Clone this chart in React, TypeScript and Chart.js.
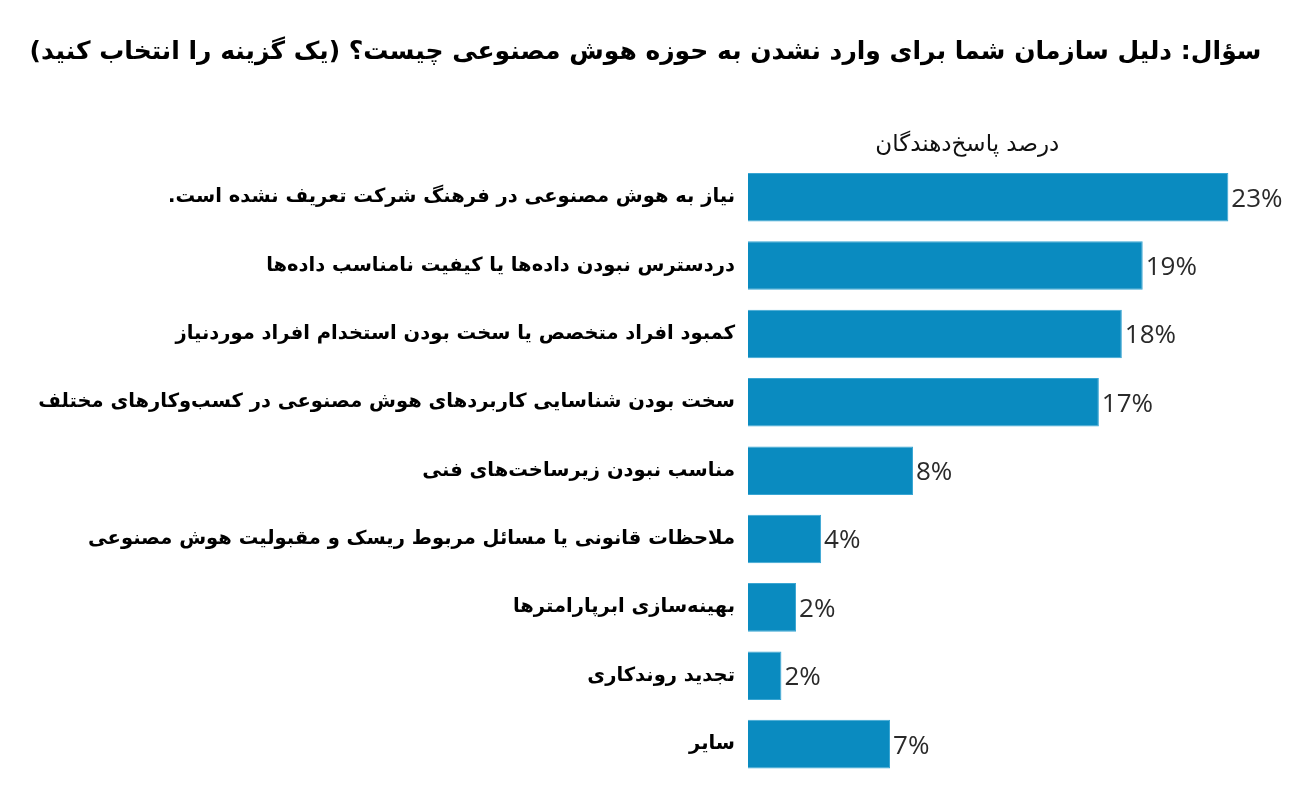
import React, { useEffect, useRef } from "react";
import { Chart, registerables } from "chart.js";

Chart.register(...registerables);

const titleText = "سؤال: دلیل سازمان شما برای وارد نشدن به حوزه هوش مصنوعی چیست؟ (یک گزینه را انتخاب کنید)";
const headerText = "درصد پاسخ\u200Cدهندگان";

const categories = [
  "نیاز به هوش مصنوعی در فرهنگ شرکت تعریف نشده است.",
  "دردسترس نبودن داده\u200Cها یا کیفیت نامناسب داده\u200Cها",
  "کمبود افراد متخصص یا سخت بودن استخدام افراد موردنیاز",
  "سخت بودن شناسایی کاربردهای هوش مصنوعی در کسب\u200Cوکارهای مختلف",
  "مناسب نبودن زیرساخت\u200Cهای فنی",
  "ملاحظات قانونی یا مسائل مربوط ریسک و مقبولیت هوش مصنوعی",
  "بهینه\u200Cسازی ابرپارامترها",
  "تجدید روندکاری",
  "سایر",
];

const values = [23, 18.9, 17.9, 16.8, 7.9, 3.5, 2.3, 1.6, 6.8];
const valueLabels = ["23%", "19%", "18%", "17%", "8%", "4%", "2%", "2%", "7%"];

const barColor = "#0a8bc0";

const labelPlugin = {
  id: "valueLabels",
  afterDatasetsDraw(chart: any) {
    const ctx = chart.ctx;
    const meta = chart.getDatasetMeta(0);
    ctx.save();
    ctx.direction = "ltr";
    ctx.font = "26px 'Open Sans'";
    ctx.fillStyle = "#2a2a2a";
    ctx.textAlign = "left";
    ctx.textBaseline = "middle";
    meta.data.forEach((el: any, i: number) => {
      ctx.fillText(valueLabels[i], el.x + 3, el.y + 2);
    });
    // header above bars
    const xs = chart.scales.x;
    const cx = xs.getPixelForValue(10.5);
    ctx.direction = "rtl";
    ctx.font = "23px 'DejaVu Sans'";
    ctx.fillStyle = "#111111";
    ctx.textAlign = "center";
    ctx.fillText(headerText, cx, chart.chartArea.top - 18);
    ctx.restore();
  },
};

export default function App() {
  const ref = useRef<HTMLCanvasElement>(null);
  useEffect(() => {
    document.body.style.margin = "0";
    const chart = new Chart(ref.current!, {
      type: "bar",
      data: {
        labels: categories,
        datasets: [
          {
            data: values,
            backgroundColor: barColor,
            borderColor: "#3aa6d3",
            borderWidth: 1,
            barPercentage: 0.71,
            categoryPercentage: 1,
          },
        ],
      },
      options: {
        indexAxis: "y",
        animation: false,
        responsive: false,
        layout: { padding: { top: 0, bottom: 18, right: 9, left: 0 } },
        plugins: {
          legend: { display: false },
          tooltip: { enabled: false },
          title: {
            display: true,
            text: titleText,
            color: "#000000",
            font: { family: "'DejaVu Sans'", size: 25, weight: "bold" },
            padding: { top: 37, bottom: 96 },
          },
        },
        scales: {
          x: { display: false, min: 0, max: 26 },
          y: {
            grid: { display: false, drawTicks: false },
            border: { display: false },
            ticks: {
              color: "#000000",
              padding: 13,
              font: { family: "'DejaVu Sans'", size: 19.5, weight: "bold" },
            },
            afterFit(scale: any) {
              scale.width = 748;
            },
          },
        },
      },
      plugins: [labelPlugin],
    });
    return () => chart.destroy();
  }, []);
  return (
    <div style={{ width: 1300, height: 803, background: "#ffffff" }}>
      <canvas ref={ref} width={1300} height={803} style={{ direction: "rtl", display: "block" }} />
    </div>
  );
}
